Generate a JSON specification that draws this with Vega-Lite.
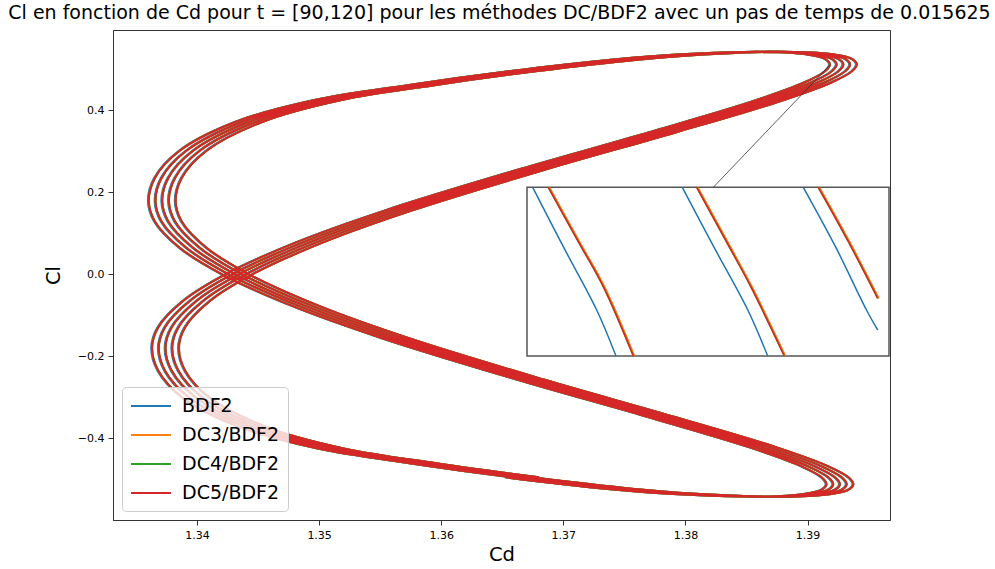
{
"$schema": "https://vega.github.io/schema/vega-lite/v6.json",
"width": 777, "height": 490,
"autosize": {"type": "none"},
"padding": {"left": 113, "top": 30, "right": 105, "bottom": 49},
"title": {"text": "Cl en fonction de Cd pour t = [90,120] pour les méthodes DC/BDF2 avec un pas de temps de 0.015625", "fontSize": 19, "font": "DejaVu Sans", "fontWeight": "normal", "color": "#000", "offset": 7, "anchor": "middle", "dx": -2},
"config": {
 "font": "DejaVu Sans",
 "view": {"stroke": "#333", "strokeWidth": 1},
 "axis": {"labelFont": "DejaVu Sans", "labelFontSize": 11, "labelColor": "#000", "titleFont": "DejaVu Sans", "titleFontSize": 19.5, "titleFontWeight": "normal", "titleColor": "#000", "tickColor": "#333", "domainColor": "#333", "tickSize": 5, "labelPadding": 4, "grid": false}
},
"datasets": {
 "curve": [
{"t":0,"cl":-0.4947,"d":1.36527,"b":1.3652},
{"t":1,"cl":-0.5223,"d":1.37342,"b":1.37335},
{"t":2,"cl":-0.538,"d":1.38072,"b":1.38065},
{"t":3,"cl":-0.5418,"d":1.38646,"b":1.38639},
{"t":4,"cl":-0.536,"d":1.38962,"b":1.38955},
{"t":5,"cl":-0.5253,"d":1.39113,"b":1.39106},
{"t":6,"cl":-0.5118,"d":1.39155,"b":1.39148},
{"t":7,"cl":-0.4951,"d":1.39117,"b":1.3911},
{"t":8,"cl":-0.4679,"d":1.38951,"b":1.38944},
{"t":9,"cl":-0.4217,"d":1.38528,"b":1.38521},
{"t":10,"cl":-0.3457,"d":1.37672,"b":1.37665},
{"t":11,"cl":-0.2558,"d":1.36613,"b":1.36606},
{"t":12,"cl":-0.1558,"d":1.35517,"b":1.3551},
{"t":13,"cl":-0.0765,"d":1.34775,"b":1.34768},
{"t":14,"cl":0,"d":1.34206,"b":1.34199},
{"t":15,"cl":0.0649,"d":1.33858,"b":1.33851},
{"t":16,"cl":0.1288,"d":1.33655,"b":1.33648},
{"t":17,"cl":0.1786,"d":1.33605,"b":1.33598},
{"t":18,"cl":0.2348,"d":1.33655,"b":1.33648},
{"t":19,"cl":0.3011,"d":1.33858,"b":1.33851},
{"t":20,"cl":0.3712,"d":1.34314,"b":1.34307},
{"t":21,"cl":0.4242,"d":1.34955,"b":1.34948},
{"t":22,"cl":0.4609,"d":1.35725,"b":1.35718},
{"t":23,"cl":0.4947,"d":1.36554,"b":1.36547},
{"t":24,"cl":0.5223,"d":1.37369,"b":1.37362},
{"t":25,"cl":0.538,"d":1.381,"b":1.38093},
{"t":26,"cl":0.5418,"d":1.38673,"b":1.38666},
{"t":27,"cl":0.536,"d":1.3899,"b":1.38983},
{"t":28,"cl":0.5253,"d":1.3914,"b":1.39133},
{"t":29,"cl":0.5118,"d":1.39183,"b":1.39176},
{"t":30,"cl":0.4951,"d":1.39145,"b":1.39138},
{"t":31,"cl":0.4679,"d":1.38979,"b":1.38972},
{"t":32,"cl":0.4217,"d":1.38555,"b":1.38548},
{"t":33,"cl":0.3457,"d":1.377,"b":1.37693},
{"t":34,"cl":0.2558,"d":1.36641,"b":1.36634},
{"t":35,"cl":0.1558,"d":1.35544,"b":1.35537},
{"t":36,"cl":0.0765,"d":1.34803,"b":1.34796},
{"t":37,"cl":0,"d":1.34234,"b":1.34227},
{"t":38,"cl":-0.0649,"d":1.33886,"b":1.33879},
{"t":39,"cl":-0.1288,"d":1.33683,"b":1.33676},
{"t":40,"cl":-0.1786,"d":1.33632,"b":1.33625},
{"t":41,"cl":-0.2348,"d":1.33683,"b":1.33676},
{"t":42,"cl":-0.3011,"d":1.33886,"b":1.33879},
{"t":43,"cl":-0.3712,"d":1.34342,"b":1.34335},
{"t":44,"cl":-0.4242,"d":1.34982,"b":1.34975},
{"t":45,"cl":-0.4609,"d":1.35753,"b":1.35746},
{"t":46,"cl":-0.4947,"d":1.36582,"b":1.36575},
{"t":47,"cl":-0.5223,"d":1.37397,"b":1.3739},
{"t":48,"cl":-0.538,"d":1.38127,"b":1.3812},
{"t":49,"cl":-0.5418,"d":1.38701,"b":1.38694},
{"t":50,"cl":-0.536,"d":1.39017,"b":1.3901},
{"t":51,"cl":-0.5253,"d":1.39168,"b":1.39161},
{"t":52,"cl":-0.5118,"d":1.3921,"b":1.39203},
{"t":53,"cl":-0.4951,"d":1.39172,"b":1.39165},
{"t":54,"cl":-0.4679,"d":1.39006,"b":1.38999},
{"t":55,"cl":-0.4217,"d":1.38583,"b":1.38576},
{"t":56,"cl":-0.3457,"d":1.37727,"b":1.3772},
{"t":57,"cl":-0.2558,"d":1.36668,"b":1.36661},
{"t":58,"cl":-0.1558,"d":1.35572,"b":1.35565},
{"t":59,"cl":-0.0765,"d":1.3483,"b":1.34823},
{"t":60,"cl":0,"d":1.34261,"b":1.34254},
{"t":61,"cl":0.0649,"d":1.33913,"b":1.33906},
{"t":62,"cl":0.1288,"d":1.3371,"b":1.33703},
{"t":63,"cl":0.1786,"d":1.3366,"b":1.33653},
{"t":64,"cl":0.2348,"d":1.3371,"b":1.33703},
{"t":65,"cl":0.3011,"d":1.33913,"b":1.33906},
{"t":66,"cl":0.3712,"d":1.34369,"b":1.34362},
{"t":67,"cl":0.4242,"d":1.3501,"b":1.35003},
{"t":68,"cl":0.4609,"d":1.3578,"b":1.35773},
{"t":69,"cl":0.4947,"d":1.36609,"b":1.36602},
{"t":70,"cl":0.5223,"d":1.37424,"b":1.37417},
{"t":71,"cl":0.538,"d":1.38155,"b":1.38148},
{"t":72,"cl":0.5418,"d":1.38728,"b":1.38721},
{"t":73,"cl":0.536,"d":1.39045,"b":1.39038},
{"t":74,"cl":0.5253,"d":1.39195,"b":1.39188},
{"t":75,"cl":0.5118,"d":1.39238,"b":1.39231},
{"t":76,"cl":0.4951,"d":1.392,"b":1.39193},
{"t":77,"cl":0.4679,"d":1.39034,"b":1.39027},
{"t":78,"cl":0.4217,"d":1.3861,"b":1.38603},
{"t":79,"cl":0.3457,"d":1.37755,"b":1.37748},
{"t":80,"cl":0.2558,"d":1.36696,"b":1.36689},
{"t":81,"cl":0.1558,"d":1.35599,"b":1.35592},
{"t":82,"cl":0.0765,"d":1.34858,"b":1.34851},
{"t":83,"cl":0,"d":1.34289,"b":1.34282},
{"t":84,"cl":-0.0649,"d":1.33941,"b":1.33934},
{"t":85,"cl":-0.1288,"d":1.33738,"b":1.33731},
{"t":86,"cl":-0.1786,"d":1.33687,"b":1.3368},
{"t":87,"cl":-0.2348,"d":1.33738,"b":1.33731},
{"t":88,"cl":-0.3011,"d":1.33941,"b":1.33934},
{"t":89,"cl":-0.3712,"d":1.34397,"b":1.3439},
{"t":90,"cl":-0.4242,"d":1.35037,"b":1.3503},
{"t":91,"cl":-0.4609,"d":1.35808,"b":1.35801},
{"t":92,"cl":-0.4947,"d":1.36637,"b":1.3663},
{"t":93,"cl":-0.5223,"d":1.37452,"b":1.37445},
{"t":94,"cl":-0.538,"d":1.38182,"b":1.38175},
{"t":95,"cl":-0.5418,"d":1.38756,"b":1.38749},
{"t":96,"cl":-0.536,"d":1.39072,"b":1.39065},
{"t":97,"cl":-0.5253,"d":1.39223,"b":1.39216},
{"t":98,"cl":-0.5118,"d":1.39265,"b":1.39258},
{"t":99,"cl":-0.4951,"d":1.39227,"b":1.3922},
{"t":100,"cl":-0.4679,"d":1.39061,"b":1.39054},
{"t":101,"cl":-0.4217,"d":1.38638,"b":1.38631},
{"t":102,"cl":-0.3457,"d":1.37782,"b":1.37775},
{"t":103,"cl":-0.2558,"d":1.36723,"b":1.36716},
{"t":104,"cl":-0.1558,"d":1.35627,"b":1.3562},
{"t":105,"cl":-0.0765,"d":1.34885,"b":1.34878},
{"t":106,"cl":0,"d":1.34316,"b":1.34309},
{"t":107,"cl":0.0649,"d":1.33968,"b":1.33961},
{"t":108,"cl":0.1288,"d":1.33765,"b":1.33758},
{"t":109,"cl":0.1786,"d":1.33715,"b":1.33708},
{"t":110,"cl":0.2348,"d":1.33765,"b":1.33758},
{"t":111,"cl":0.3011,"d":1.33968,"b":1.33961},
{"t":112,"cl":0.3712,"d":1.34424,"b":1.34417},
{"t":113,"cl":0.4242,"d":1.35065,"b":1.35058},
{"t":114,"cl":0.4609,"d":1.35835,"b":1.35828},
{"t":115,"cl":0.4947,"d":1.36664,"b":1.36657},
{"t":116,"cl":0.5223,"d":1.37479,"b":1.37472},
{"t":117,"cl":0.538,"d":1.3821,"b":1.38203},
{"t":118,"cl":0.5418,"d":1.38783,"b":1.38776},
{"t":119,"cl":0.536,"d":1.391,"b":1.39093},
{"t":120,"cl":0.5253,"d":1.3925,"b":1.39243},
{"t":121,"cl":0.5118,"d":1.39293,"b":1.39286},
{"t":122,"cl":0.4951,"d":1.39255,"b":1.39248},
{"t":123,"cl":0.4679,"d":1.39089,"b":1.39082},
{"t":124,"cl":0.4217,"d":1.38665,"b":1.38658},
{"t":125,"cl":0.3457,"d":1.3781,"b":1.37803},
{"t":126,"cl":0.2558,"d":1.36751,"b":1.36744},
{"t":127,"cl":0.1558,"d":1.35654,"b":1.35647},
{"t":128,"cl":0.0765,"d":1.34913,"b":1.34906},
{"t":129,"cl":0,"d":1.34344,"b":1.34337},
{"t":130,"cl":-0.0649,"d":1.33996,"b":1.33989},
{"t":131,"cl":-0.1288,"d":1.33793,"b":1.33786},
{"t":132,"cl":-0.1786,"d":1.33742,"b":1.33735},
{"t":133,"cl":-0.2348,"d":1.33793,"b":1.33786},
{"t":134,"cl":-0.3011,"d":1.33996,"b":1.33989},
{"t":135,"cl":-0.3712,"d":1.34452,"b":1.34445},
{"t":136,"cl":-0.4242,"d":1.35092,"b":1.35085},
{"t":137,"cl":-0.4609,"d":1.35863,"b":1.35856},
{"t":138,"cl":-0.4947,"d":1.36692,"b":1.36685},
{"t":139,"cl":-0.5223,"d":1.37507,"b":1.375},
{"t":140,"cl":-0.538,"d":1.38237,"b":1.3823},
{"t":141,"cl":-0.5418,"d":1.38811,"b":1.38804},
{"t":142,"cl":-0.536,"d":1.39127,"b":1.3912},
{"t":143,"cl":-0.5253,"d":1.39278,"b":1.39271},
{"t":144,"cl":-0.5118,"d":1.3932,"b":1.39313},
{"t":145,"cl":-0.4951,"d":1.39282,"b":1.39275},
{"t":146,"cl":-0.4679,"d":1.39116,"b":1.39109},
{"t":147,"cl":-0.4217,"d":1.38693,"b":1.38686},
{"t":148,"cl":-0.3457,"d":1.37837,"b":1.3783},
{"t":149,"cl":-0.2558,"d":1.36778,"b":1.36771},
{"t":150,"cl":-0.1558,"d":1.35682,"b":1.35675},
{"t":151,"cl":-0.0765,"d":1.3494,"b":1.34933},
{"t":152,"cl":0,"d":1.34371,"b":1.34364},
{"t":153,"cl":0.0649,"d":1.34023,"b":1.34016},
{"t":154,"cl":0.1288,"d":1.3382,"b":1.33813},
{"t":155,"cl":0.1786,"d":1.3377,"b":1.33763},
{"t":156,"cl":0.2348,"d":1.3382,"b":1.33813},
{"t":157,"cl":0.3011,"d":1.34023,"b":1.34016},
{"t":158,"cl":0.3712,"d":1.34479,"b":1.34472},
{"t":159,"cl":0.4242,"d":1.3512,"b":1.35113},
{"t":160,"cl":0.4609,"d":1.3589,"b":1.35883},
{"t":161,"cl":0.4947,"d":1.36719,"b":1.36712},
{"t":162,"cl":0.5223,"d":1.37534,"b":1.37527},
{"t":163,"cl":0.538,"d":1.38265,"b":1.38258},
{"t":164,"cl":0.5418,"d":1.38838,"b":1.38831},
{"t":165,"cl":0.536,"d":1.39155,"b":1.39148},
{"t":166,"cl":0.5253,"d":1.39305,"b":1.39298},
{"t":167,"cl":0.5118,"d":1.39348,"b":1.39341},
{"t":168,"cl":0.4951,"d":1.3931,"b":1.39303},
{"t":169,"cl":0.4679,"d":1.39144,"b":1.39137},
{"t":170,"cl":0.4217,"d":1.3872,"b":1.38713},
{"t":171,"cl":0.3457,"d":1.37865,"b":1.37858},
{"t":172,"cl":0.2558,"d":1.36806,"b":1.36799},
{"t":173,"cl":0.1558,"d":1.35709,"b":1.35702},
{"t":174,"cl":0.0765,"d":1.34968,"b":1.34961},
{"t":175,"cl":0,"d":1.34399,"b":1.34392},
{"t":176,"cl":-0.0649,"d":1.34051,"b":1.34044},
{"t":177,"cl":-0.1288,"d":1.33848,"b":1.33841},
{"t":178,"cl":-0.1786,"d":1.33797,"b":1.3379},
{"t":179,"cl":-0.2348,"d":1.33848,"b":1.33841},
{"t":180,"cl":-0.3011,"d":1.34051,"b":1.34044},
{"t":181,"cl":-0.3712,"d":1.34507,"b":1.345},
{"t":182,"cl":-0.4242,"d":1.35147,"b":1.3514},
{"t":183,"cl":-0.4609,"d":1.35918,"b":1.35911},
{"t":184,"cl":-0.4947,"d":1.36747,"b":1.3674},
{"t":185,"cl":-0.5223,"d":1.37562,"b":1.37555},
{"t":186,"cl":-0.538,"d":1.38292,"b":1.38285},
{"t":187,"cl":-0.5418,"d":1.38866,"b":1.38859},
{"t":188,"cl":-0.536,"d":1.39182,"b":1.39175},
{"t":189,"cl":-0.5253,"d":1.39333,"b":1.39326},
{"t":190,"cl":-0.5118,"d":1.39375,"b":1.39368},
{"t":191,"cl":-0.4951,"d":1.39337,"b":1.3933},
{"t":192,"cl":-0.4679,"d":1.39171,"b":1.39164},
{"t":193,"cl":-0.4217,"d":1.38748,"b":1.38741},
{"t":194,"cl":-0.3457,"d":1.37892,"b":1.37885},
{"t":195,"cl":-0.2558,"d":1.36833,"b":1.36826},
{"t":196,"cl":-0.1558,"d":1.35737,"b":1.3573},
{"t":197,"cl":-0.0765,"d":1.34995,"b":1.34988},
{"t":198,"cl":0,"d":1.34426,"b":1.34419},
{"t":199,"cl":0.0649,"d":1.34078,"b":1.34071},
{"t":200,"cl":0.1288,"d":1.33875,"b":1.33868},
{"t":201,"cl":0.1786,"d":1.33825,"b":1.33818},
{"t":202,"cl":0.2348,"d":1.33875,"b":1.33868},
{"t":203,"cl":0.3011,"d":1.34078,"b":1.34071},
{"t":204,"cl":0.3712,"d":1.34534,"b":1.34527},
{"t":205,"cl":0.4242,"d":1.35175,"b":1.35168},
{"t":206,"cl":0.4609,"d":1.35945,"b":1.35938},
{"t":207,"cl":0.4947,"d":1.36774,"b":1.36767},
{"t":208,"cl":0.5223,"d":1.37589,"b":1.37582},
{"t":209,"cl":0.538,"d":1.3832,"b":1.38313},
{"t":210,"cl":0.5418,"d":1.38893,"b":1.38886},
{"t":211,"cl":0.536,"d":1.3921,"b":1.39203},
{"t":212,"cl":0.5253,"d":1.3936,"b":1.39353},
{"t":213,"cl":0.5118,"d":1.39403,"b":1.39396},
{"t":214,"cl":0.4951,"d":1.39365,"b":1.39358},
{"t":215,"cl":0.4679,"d":1.39199,"b":1.39192},
{"t":216,"cl":0.4217,"d":1.38775,"b":1.38768},
{"t":217,"cl":0.3457,"d":1.3792,"b":1.37913},
{"t":218,"cl":0.2558,"d":1.36861,"b":1.36854},
{"t":219,"cl":0.1558,"d":1.35764,"b":1.35757},
{"t":220,"cl":0.0765,"d":1.35023,"b":1.35016},
{"t":221,"cl":0,"d":1.34454,"b":1.34447},
{"t":222,"cl":-0.0649,"d":1.34106,"b":1.34099},
{"t":223,"cl":-0.1288,"d":1.33903,"b":1.33896},
{"t":224,"cl":-0.1786,"d":1.33852,"b":1.33845},
{"t":225,"cl":-0.2348,"d":1.33903,"b":1.33896},
{"t":226,"cl":-0.3011,"d":1.34106,"b":1.34099},
{"t":227,"cl":-0.3712,"d":1.34562,"b":1.34555},
{"t":228,"cl":-0.4242,"d":1.35202,"b":1.35195},
{"t":229,"cl":-0.4609,"d":1.35973,"b":1.35966},
{"t":230,"cl":-0.4947,"d":1.36802,"b":1.36795}
 ],
 "inset": [
{"s":"b1","m":"BDF2","o":0,"ix":1.3914197,"iy":0.5173327},
{"s":"b1","m":"BDF2","o":1,"ix":1.3914503,"iy":0.5172733},
{"s":"b1","m":"BDF2","o":2,"ix":1.3914837,"iy":0.51721},
{"s":"b1","m":"BDF2","o":3,"ix":1.391503,"iy":0.517164},
{"s":"b2","m":"BDF2","o":0,"ix":1.3915693,"iy":0.5173327},
{"s":"b2","m":"BDF2","o":1,"ix":1.3916007,"iy":0.5172733},
{"s":"b2","m":"BDF2","o":2,"ix":1.3916348,"iy":0.51721},
{"s":"b2","m":"BDF2","o":3,"ix":1.3916547,"iy":0.517164},
{"s":"b3","m":"BDF2","o":0,"ix":1.3916903,"iy":0.5173327},
{"s":"b3","m":"BDF2","o":1,"ix":1.3917225,"iy":0.5172733},
{"s":"b3","m":"BDF2","o":2,"ix":1.3917535,"iy":0.51721},
{"s":"b3","m":"BDF2","o":3,"ix":1.3917647,"iy":0.51719},
{"s":"o1","m":"DC3/BDF2","o":0,"ix":1.3914366,"iy":0.5173327},
{"s":"o1","m":"DC3/BDF2","o":1,"ix":1.3914666,"iy":0.5172783},
{"s":"o1","m":"DC3/BDF2","o":2,"ix":1.3914916,"iy":0.5172333},
{"s":"o1","m":"DC3/BDF2","o":3,"ix":1.3915216,"iy":0.517164},
{"s":"o2","m":"DC3/BDF2","o":0,"ix":1.391585,"iy":0.5173327},
{"s":"o2","m":"DC3/BDF2","o":1,"ix":1.3916147,"iy":0.5172783},
{"s":"o2","m":"DC3/BDF2","o":2,"ix":1.3916391,"iy":0.5172333},
{"s":"o2","m":"DC3/BDF2","o":3,"ix":1.3916726,"iy":0.517164},
{"s":"o3","m":"DC3/BDF2","o":0,"ix":1.3917066,"iy":0.5173327},
{"s":"o3","m":"DC3/BDF2","o":1,"ix":1.3917367,"iy":0.5172783},
{"s":"o3","m":"DC3/BDF2","o":2,"ix":1.391766,"iy":0.5172217},
{"s":"g1","m":"DC4/BDF2","o":0,"ix":1.3914353,"iy":0.5173327},
{"s":"g1","m":"DC4/BDF2","o":1,"ix":1.3914653,"iy":0.5172783},
{"s":"g1","m":"DC4/BDF2","o":2,"ix":1.3914903,"iy":0.5172333},
{"s":"g1","m":"DC4/BDF2","o":3,"ix":1.3915203,"iy":0.517164},
{"s":"g2","m":"DC4/BDF2","o":0,"ix":1.3915837,"iy":0.5173327},
{"s":"g2","m":"DC4/BDF2","o":1,"ix":1.3916134,"iy":0.5172783},
{"s":"g2","m":"DC4/BDF2","o":2,"ix":1.3916378,"iy":0.5172333},
{"s":"g2","m":"DC4/BDF2","o":3,"ix":1.3916713,"iy":0.517164},
{"s":"g3","m":"DC4/BDF2","o":0,"ix":1.3917053,"iy":0.5173327},
{"s":"g3","m":"DC4/BDF2","o":1,"ix":1.3917354,"iy":0.5172783},
{"s":"g3","m":"DC4/BDF2","o":2,"ix":1.3917647,"iy":0.5172217},
{"s":"r1","m":"DC5/BDF2","o":0,"ix":1.3914353,"iy":0.5173327},
{"s":"r1","m":"DC5/BDF2","o":1,"ix":1.3914653,"iy":0.5172783},
{"s":"r1","m":"DC5/BDF2","o":2,"ix":1.3914903,"iy":0.5172333},
{"s":"r1","m":"DC5/BDF2","o":3,"ix":1.3915203,"iy":0.517164},
{"s":"r2","m":"DC5/BDF2","o":0,"ix":1.3915837,"iy":0.5173327},
{"s":"r2","m":"DC5/BDF2","o":1,"ix":1.3916134,"iy":0.5172783},
{"s":"r2","m":"DC5/BDF2","o":2,"ix":1.3916378,"iy":0.5172333},
{"s":"r2","m":"DC5/BDF2","o":3,"ix":1.3916713,"iy":0.517164},
{"s":"r3","m":"DC5/BDF2","o":0,"ix":1.3917053,"iy":0.5173327},
{"s":"r3","m":"DC5/BDF2","o":1,"ix":1.3917354,"iy":0.5172783},
{"s":"r3","m":"DC5/BDF2","o":2,"ix":1.3917647,"iy":0.5172217}
 ],
 "box": [{"x1":1.391414,"x2":1.391776,"y1":0.517164,"y2":0.5173327}],
 "conn": [{"x1":1.3916003,"y1":0.5173327,"x2":1.391717,"y2":0.517455}]
},
"layer": [
 {
  "data": {"name": "curve"},
  "layer": [
   {"mark": {"type": "line", "interpolate": "catmull-rom", "strokeWidth": 2},
    "encoding": {
     "x": {"field": "b", "type": "quantitative", "title": "Cd", "scale": {"domain": [1.33312, 1.39675], "nice": false, "zero": false}, "axis": {"values": [1.34, 1.35, 1.36, 1.37, 1.38, 1.39], "format": ".2f", "titlePadding": 5}},
     "y": {"field": "cl", "type": "quantitative", "title": "Cl", "scale": {"domain": [-0.5987, 0.5953], "nice": false, "zero": false}, "axis": {"values": [-0.4, -0.2, 0, 0.2, 0.4], "labelExpr": "replace(format(datum.value, '.1f'), '-', '−')", "titlePadding": 14}},
     "order": {"field": "t", "type": "quantitative"},
     "color": {"datum": "BDF2", "type": "nominal",
       "scale": {"domain": ["BDF2", "DC3/BDF2", "DC4/BDF2", "DC5/BDF2"], "range": ["#1f77b4", "#ff7f0e", "#2ca02c", "#d62728"]},
       "legend": {"orient": "bottom-left", "offset": 9, "title": null, "symbolType": "M-2,0H2", "symbolSize": 400, "symbolOffset": 10, "symbolStrokeWidth": 2, "labelFont": "DejaVu Sans", "labelFontSize": 19, "labelColor": "#000", "labelOffset": 20, "padding": 8, "rowPadding": 8, "fillColor": "rgba(255,255,255,0.8)", "strokeColor": "#cccccc", "cornerRadius": 4}}
    }},
   {"mark": {"type": "line", "interpolate": "catmull-rom", "strokeWidth": 2},
    "encoding": {
     "x": {"field": "d", "type": "quantitative", "title": "Cd"},
     "y": {"field": "cl", "type": "quantitative", "title": "Cl"},
     "order": {"field": "t", "type": "quantitative"},
     "color": {"datum": "DC3/BDF2", "type": "nominal"}
    }},
   {"mark": {"type": "line", "interpolate": "catmull-rom", "strokeWidth": 2},
    "encoding": {
     "x": {"field": "d", "type": "quantitative", "title": "Cd"},
     "y": {"field": "cl", "type": "quantitative", "title": "Cl"},
     "order": {"field": "t", "type": "quantitative"},
     "color": {"datum": "DC4/BDF2", "type": "nominal"}
    }},
   {"mark": {"type": "line", "interpolate": "catmull-rom", "strokeWidth": 2},
    "encoding": {
     "x": {"field": "d", "type": "quantitative", "title": "Cd"},
     "y": {"field": "cl", "type": "quantitative", "title": "Cl"},
     "order": {"field": "t", "type": "quantitative"},
     "color": {"datum": "DC5/BDF2", "type": "nominal"}
    }}
  ]
 },
 {
  "layer": [
   {"data": {"name": "box"},
    "mark": {"type": "rect", "fill": "white", "stroke": "#555555", "strokeWidth": 1.5},
    "encoding": {
     "x": {"field": "x1", "type": "quantitative", "scale": {"domain": [1.391, 1.391777], "nice": false, "zero": false}, "axis": null},
     "x2": {"field": "x2"},
     "y": {"field": "y1", "type": "quantitative", "scale": {"domain": [0.517, 0.51749], "nice": false, "zero": false}, "axis": null},
     "y2": {"field": "y2"}
    }},
   {"data": {"name": "inset"},
    "mark": {"type": "line", "strokeWidth": 1.5, "interpolate": "catmull-rom"},
    "encoding": {
     "x": {"field": "ix", "type": "quantitative", "axis": null},
     "y": {"field": "iy", "type": "quantitative", "axis": null},
     "detail": {"field": "s"},
     "order": {"field": "o", "type": "quantitative"},
     "color": {"field": "m", "type": "nominal", "scale": {"domain": ["BDF2", "DC3/BDF2", "DC4/BDF2", "DC5/BDF2"], "range": ["#1f77b4", "#ff7f0e", "#2ca02c", "#d62728"]}, "legend": null}
    }},
   {"data": {"name": "conn"},
    "mark": {"type": "rule", "color": "#333333", "strokeWidth": 0.8},
    "encoding": {
     "x": {"field": "x1", "type": "quantitative", "axis": null},
     "y": {"field": "y1", "type": "quantitative", "axis": null},
     "x2": {"field": "x2"},
     "y2": {"field": "y2"}
    }}
  ]
 }
],
"resolve": {"scale": {"x": "independent", "y": "independent", "color": "independent"}}
}
